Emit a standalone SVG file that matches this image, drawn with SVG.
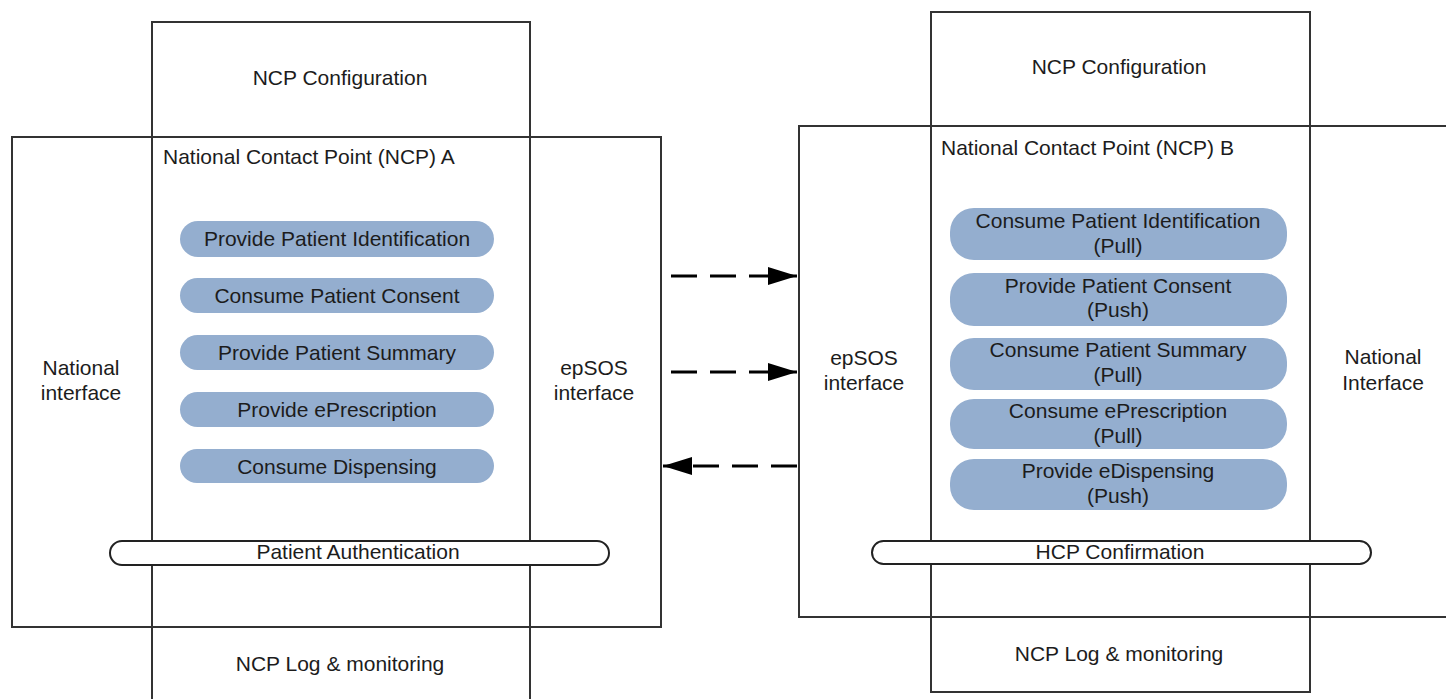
<svg xmlns="http://www.w3.org/2000/svg" width="1446" height="699" viewBox="0 0 1446 699">
<style>
  .frame{fill:none;stroke:#333;stroke-width:2}
  .pill{fill:#94aecf;stroke:none}
  .bar{fill:#fff;stroke:#222;stroke-width:2}
  text{font-family:"Liberation Sans",Arial,sans-serif;font-size:21px;fill:#1c1c1c}
  .c{text-anchor:middle}
  .conn{stroke:#000;stroke-width:3;fill:none;stroke-dasharray:26 13}
</style>
<defs>
  <marker id="ah" markerUnits="userSpaceOnUse" markerWidth="30" markerHeight="20" refX="29" refY="10" orient="auto">
    <polygon points="0,1 29,10 0,19" fill="#000"/>
  </marker>
</defs>
<rect width="1446" height="699" fill="#fff"/>

<g id="ncpA">
  <rect class="frame" x="152" y="22" width="378" height="700"/>
  <rect class="frame" x="12" y="137" width="649" height="490"/>
  <text class="c" x="340" y="85">NCP Configuration</text>
  <text x="163" y="164">National Contact Point (NCP) A</text>
  <text class="c" x="81" y="375">National</text>
  <text class="c" x="81" y="400">interface</text>
  <text class="c" x="594" y="375">epSOS</text>
  <text class="c" x="594" y="400">interface</text>
  <text class="c" x="340" y="671">NCP Log &amp; monitoring</text>
</g>

<g id="pillsA">
  <g id="a1"><rect class="pill" x="180" y="221" width="314" height="36" rx="18"/><text class="c" x="337" y="246">Provide Patient Identification</text></g>
  <g id="a2"><rect class="pill" x="180" y="278" width="314" height="35" rx="17.5"/><text class="c" x="337" y="303">Consume Patient Consent</text></g>
  <g id="a3"><rect class="pill" x="180" y="335" width="314" height="35" rx="17.5"/><text class="c" x="337" y="360">Provide Patient Summary</text></g>
  <g id="a4"><rect class="pill" x="180" y="392" width="314" height="35" rx="17.5"/><text class="c" x="337" y="417">Provide ePrescription</text></g>
  <g id="a5"><rect class="pill" x="180" y="449" width="314" height="34" rx="17"/><text class="c" x="337" y="474">Consume Dispensing</text></g>
</g>

<g id="authA">
  <rect class="bar" x="110" y="541" width="499" height="24" rx="12"/>
  <text class="c" x="358" y="559">Patient Authentication</text>
</g>

<g id="ncpB">
  <rect class="frame" x="931" y="12" width="379" height="680"/>
  <rect class="frame" x="799" y="126" width="680" height="491"/>
  <text class="c" x="1119" y="74">NCP Configuration</text>
  <text x="941" y="155">National Contact Point (NCP) B</text>
  <text class="c" x="864" y="365">epSOS</text>
  <text class="c" x="864" y="390">interface</text>
  <text class="c" x="1383" y="364">National</text>
  <text class="c" x="1383" y="390">Interface</text>
  <text class="c" x="1119" y="661">NCP Log &amp; monitoring</text>
</g>

<g id="pillsB">
  <g id="b1"><rect class="pill" x="950" y="208" width="337" height="52" rx="24"/><text class="c" x="1118" y="228">Consume Patient Identification</text><text class="c" x="1118" y="253">(Pull)</text></g>
  <g id="b2"><rect class="pill" x="950" y="273" width="337" height="53" rx="24"/><text class="c" x="1118" y="293">Provide Patient Consent</text><text class="c" x="1118" y="317">(Push)</text></g>
  <g id="b3"><rect class="pill" x="950" y="338" width="337" height="52" rx="24"/><text class="c" x="1118" y="357">Consume Patient Summary</text><text class="c" x="1118" y="382">(Pull)</text></g>
  <g id="b4"><rect class="pill" x="950" y="399" width="337" height="50" rx="24"/><text class="c" x="1118" y="418">Consume ePrescription</text><text class="c" x="1118" y="443">(Pull)</text></g>
  <g id="b5"><rect class="pill" x="950" y="459" width="337" height="51" rx="24"/><text class="c" x="1118" y="478">Provide eDispensing</text><text class="c" x="1118" y="503">(Push)</text></g>
</g>

<g id="authB">
  <rect class="bar" x="872" y="541" width="499" height="23" rx="11.5"/>
  <text class="c" x="1120" y="559">HCP Confirmation</text>
</g>

<g id="connectors">
  <line class="conn" x1="671" y1="276" x2="797" y2="276" marker-end="url(#ah)"/>
  <line class="conn" x1="671" y1="372" x2="797" y2="372" marker-end="url(#ah)"/>
  <line class="conn" x1="797" y1="466" x2="663" y2="466" marker-end="url(#ah)"/>
</g>
</svg>
